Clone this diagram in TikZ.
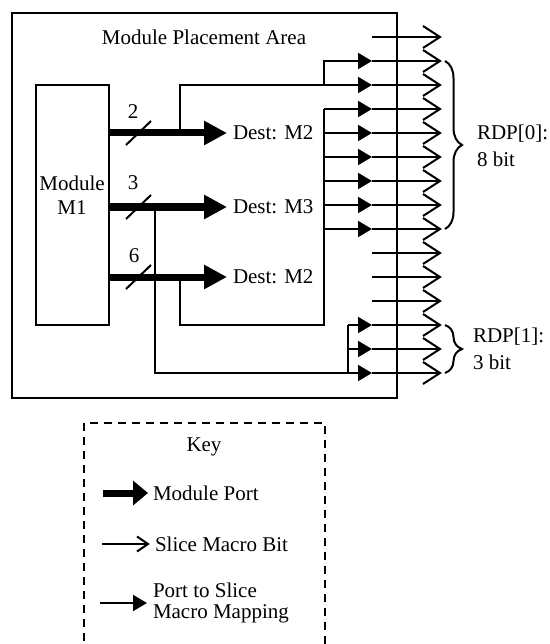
\documentclass[tikz,border=0pt]{standalone}
\usepackage{fontspec}
\setmainfont{Liberation Serif}
\usetikzlibrary{arrows.meta,decorations.pathreplacing}
\begin{document}
\begin{tikzpicture}[x=1pt,y=-1pt, line width=2pt,
  font=\fontsize{21}{24}\selectfont,
  port/.style={line width=7pt,-{Triangle[length=23pt,width=23pt]}},
  keyport/.style={line width=7pt,-{Triangle[length=15pt,width=24pt]}},
  map/.style={-{Triangle[length=14pt,width=16pt]}},
  chev/.style={line join=miter},
  lbl/.style={inner sep=0pt},
  destlbl/.style={inner xsep=5pt, inner ysep=0pt, anchor=west},
  box/.style={draw, inner sep=0pt, outer sep=0pt, anchor=north west},
  rdp/.style={inner sep=0pt, anchor=west, align=left, font=\fontsize{21}{27}\selectfont},
  brc/.style={decorate, decoration={brace, amplitude=17pt}},
  keybox/.style={dash pattern=on 8pt off 6pt}
]
\useasboundingbox (0,0) rectangle (549,644);
\clip (0,0) rectangle (549,644);

% main area
\node[box, minimum width=385pt, minimum height=385pt] (area) at (12,13) {};
\node[lbl] (title) at (204,37) {Module Placement Area};

% module M1
\node[box, minimum width=73pt, minimum height=240pt] (m1) at (36,85) {};
\node[lbl, align=center] (m1t) at (72,195) {Module\\M1};

% destinations
\node[destlbl] (d1) at (227,133) {Dest: M2};
\node[destlbl] (d2) at (227,207) {Dest: M3};
\node[destlbl] (d3) at (227,277) {Dest: M2};

% slice macro bits
\foreach \i in {1,...,15} {
  \coordinate (s\i) at (372,{37+24*(\i-1)});
  \coordinate (e\i) at (440,{37+24*(\i-1)});
  \draw (s\i) -- (e\i);
  \draw[chev] (e\i) ++(-17,-11) -- (e\i) -- ++(-17,11);
}

% mapping lines
\coordinate (b2) at (180,133);
\coordinate (j2) at (324,85);
\draw[map] (b2) |- (s3);
\draw[map] (j2) |- (s2);

\coordinate (b6) at (180,277);
\coordinate (j6) at (324,325);
\draw (b6) |- (j6) -- (s4 -| j6);
\foreach \i in {4,...,9} \draw[map] (s\i -| j6) -- (s\i);

\coordinate (b3) at (155,207);
\coordinate (j3) at (348,373);
\draw[map] (b3) |- (s15);
\draw (j3) -- (s13 -| j3);
\foreach \i in {13,14} \draw[map] (s\i -| j3) -- (s\i);

% module ports
\draw[port] (m1.east |- d1.west) -- (d1.west);
\draw[port] (m1.east |- d2.west) -- (d2.west);
\draw[port] (m1.east |- d3.west) -- (d3.west);
\draw (126,145) -- ++(25,-24);
\draw (126,219) -- ++(25,-24);
\draw (126,289) -- ++(25,-24);
\node[lbl] (n2) at (133,112) {2};
\node[lbl] (n3) at (133,183) {3};
\node[lbl] (n6) at (134,256) {6};

% braces
\draw[brc] (445,61) -- (445,229);
\node[rdp] (r0) at (476,146) {RDP[0]:\\8 bit};
\draw[brc] (445,325) -- (445,373);
\node[rdp] (r1) at (472,349) {RDP[1]:\\3 bit};

% key
\draw[keybox] (84,423) rectangle (325,700);
\node[lbl] (key) at (204,447) {Key};
\node[destlbl, inner xsep=4pt] (k1) at (148,493) {Module Port};
\coordinate (k1s) at (103,493);
\draw[keyport] (k1s) -- (k1.west);
\node[destlbl, inner xsep=6pt] (k2) at (148,544) {Slice Macro Bit};
\coordinate (k2s) at (102,544);
\draw (k2s) -- (k2.west);
\draw[chev] (k2.west) ++(-11,-7.5) -- (k2.west) -- ++(-11,7.5);
\node[destlbl, inner xsep=5pt, align=left, font=\fontsize{21}{21}\selectfont] (k3) at (147,603) {Port to Slice\\Macro Mapping};
\coordinate (k3s) at (100,603);
\draw[map] (k3s) -- (k3.west);
\end{tikzpicture}
\end{document}
